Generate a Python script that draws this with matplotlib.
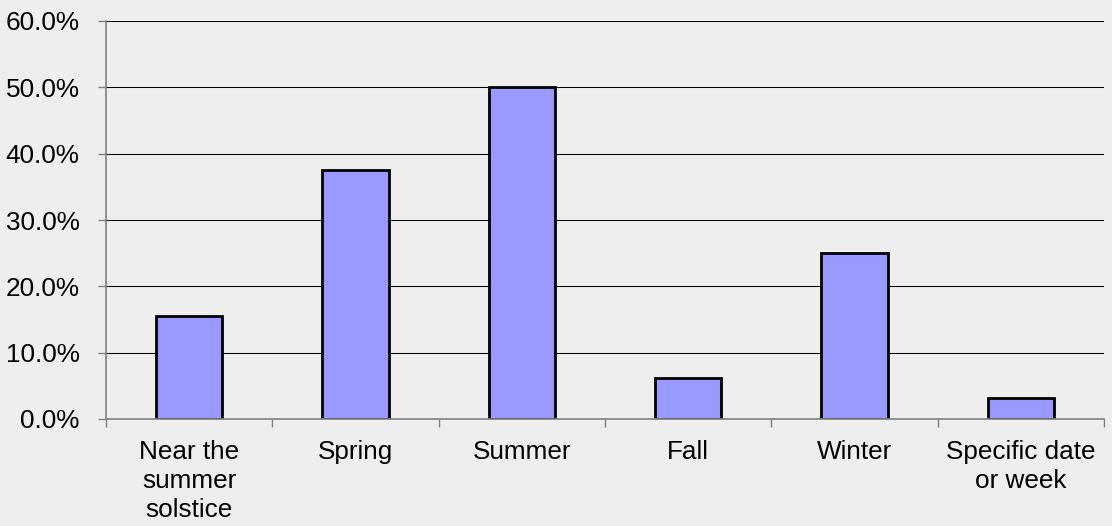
import numpy as np
import matplotlib
matplotlib.use("Agg")
import matplotlib.pyplot as plt
from matplotlib.ticker import PercentFormatter

categories = ["Near the\nsummer\nsolstice", "Spring", "Summer", "Fall", "Winter",
              "Specific date\nor week"]
shares = [15.6, 37.5, 50.0, 6.25, 25.0, 3.1]
y_ticks = [0, 10, 20, 30, 40, 50, 60]

plt.rcParams["font.family"] = ["Liberation Sans", "DejaVu Sans"]

bg = "#eeeeee"
fig = plt.figure(figsize=(11.12, 5.26), dpi=100, facecolor=bg)
ax = fig.add_axes([106 / 1112, 1 - 419 / 526, 998 / 1112, 398 / 526])
ax.set_facecolor(bg)

x = np.arange(len(categories))
ax.bar(x, shares, width=0.4, color="#9999ff", edgecolor="black",
       linewidth=2.0, zorder=3)

ax.set_xlim(-0.5, len(categories) - 0.5)
ax.set_ylim(0, 60)
ax.set_yticks(y_ticks)
ax.yaxis.set_major_formatter(PercentFormatter(decimals=1))
ax.grid(axis="y", color="black", linewidth=0.75, zorder=1)

# category labels centred, tick marks on the boundaries
ax.set_xticks(x)
ax.set_xticklabels(categories, fontsize=18.8, linespacing=1.27)
ax.tick_params(axis="x", which="major", length=0, pad=15)
ax.set_xticks(np.arange(len(categories) + 1) - 0.5, minor=True)
ax.tick_params(axis="x", which="minor", length=6, width=1, color="#808080",
               direction="out")
ax.tick_params(axis="y", labelsize=18.8, length=6, width=1, color="#808080",
               pad=13)

for side in ["top", "right"]:
    ax.spines[side].set_visible(False)
for side in ["left", "bottom"]:
    ax.spines[side].set_color("#808080")
    ax.spines[side].set_linewidth(1.2)
    ax.spines[side].set_zorder(4)

fig.savefig("out.png", dpi=100, facecolor=bg)
